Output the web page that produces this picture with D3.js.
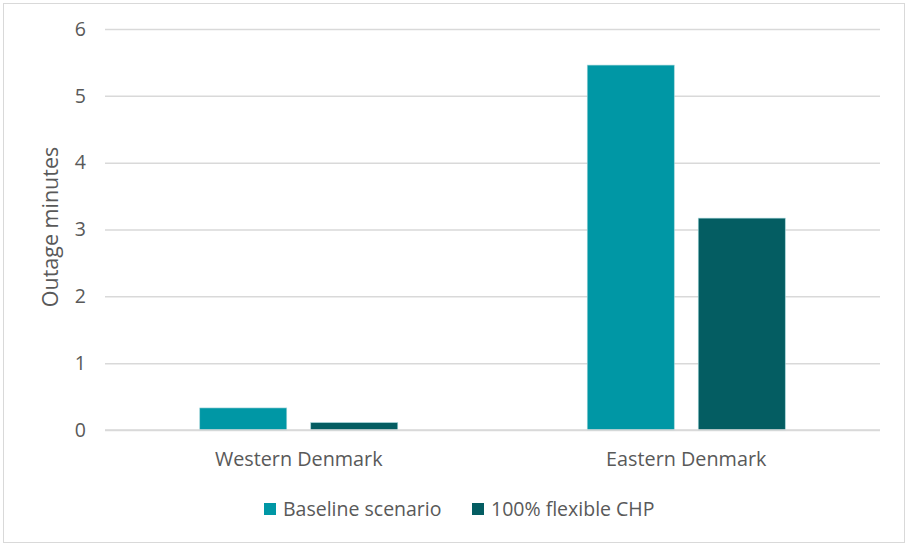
<!DOCTYPE html>
<html>
<head>
<meta charset="utf-8">
<script src="https://cdn.jsdelivr.net/npm/d3@7"></script>
<style>
  body { margin: 0; background: #fff; }
  text { font-family: "Open Sans", sans-serif; fill: #595959; }
</style>
</head>
<body>
<div id="grafico"></div>
<script>
// datos
const regiones = ["Western Denmark", "Eastern Denmark"];
const series = ["Baseline scenario", "100% flexible CHP"];
const baseline = [0.33, 5.46];
const flexible = [0.11, 3.17];
const ticksY = [0, 1, 2, 3, 4, 5, 6];
const colores = ["#0097A5", "#045D62"];

const ancho = 907, alto = 544;
const izq = 105, der = 880, arriba = 29, abajo = 430;

const svg = d3.select("#grafico").append("svg")
    .attr("width", ancho)
    .attr("height", alto);

// marco
svg.append("rect")
    .attr("x", 3.5).attr("y", 3.5)
    .attr("width", 901).attr("height", 539)
    .attr("fill", "none")
    .attr("stroke", "#D9D9D9");

const y = d3.scaleLinear().domain([0, 6]).range([abajo, arriba]);
const x0 = d3.scaleBand().domain(regiones).range([izq, der]).padding(0);
const grupo = 198;
const x1 = d3.scaleBand().domain(series)
    .range([(x0.bandwidth() - grupo) / 2, (x0.bandwidth() + grupo) / 2])
    .paddingInner(24 / 111);

// rejilla
const ejeY = d3.axisLeft(y).tickValues(ticksY).tickSize(-(der - izq)).tickPadding(19).tickFormat(d3.format("d"));
const gY = svg.append("g")
    .attr("transform", `translate(${izq},0)`)
    .call(ejeY);
gY.select(".domain").remove();
gY.selectAll("line").attr("stroke", "#D9D9D9").attr("stroke-width", 1.5);
gY.selectAll("text").attr("font-size", 19.5).attr("fill", "#595959").attr("font-family", "Open Sans");

// barras
const valores = [baseline, flexible];
regiones.forEach((r, i) => {
    const g = svg.append("g").attr("transform", `translate(${x0(r)},0)`);
    g.selectAll("rect")
        .data(series.map((s, j) => ({ s, v: valores[j][i], c: colores[j] })))
        .join("rect")
        .attr("x", d => x1(d.s))
        .attr("width", x1.bandwidth())
        .attr("y", d => y(d.v))
        .attr("height", d => y(0) - y(d.v))
        .attr("fill", d => d.c)
        .attr("stroke", "#9fd3d8")
        .attr("stroke-width", 0.6);
});

// eje x
svg.append("line")
    .attr("x1", izq).attr("x2", der)
    .attr("y1", y(0)).attr("y2", y(0))
    .attr("stroke", "#D9D9D9").attr("stroke-width", 1.5);

svg.selectAll(".categoria")
    .data(regiones)
    .join("text")
    .attr("class", "categoria")
    .attr("x", d => x0(d) + x0.bandwidth() / 2)
    .attr("y", 466)
    .attr("text-anchor", "middle")
    .attr("font-size", 19.8)
    .text(d => d);

// titulo eje y
svg.append("text")
    .attr("transform", `translate(58,227) rotate(-90)`)
    .attr("text-anchor", "middle")
    .attr("font-size", 21.5)
    .text("Outage minutes");

// leyenda
const leyenda = svg.append("g");
const posLeyenda = [264, 472];
series.forEach((s, i) => {
    leyenda.append("rect")
        .attr("x", posLeyenda[i]).attr("y", 503)
        .attr("width", 12).attr("height", 12)
        .attr("fill", colores[i]);
    leyenda.append("text")
        .attr("x", posLeyenda[i] + 19).attr("y", 516)
        .attr("font-size", 19.5)
        .text(s);
});
</script>
</body>
</html>
